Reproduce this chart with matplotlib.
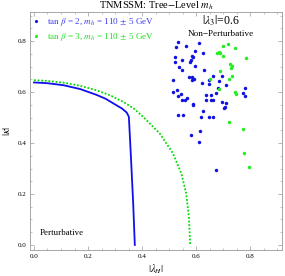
import matplotlib
matplotlib.use("Agg")
import matplotlib.pyplot as plt
from matplotlib.ticker import MultipleLocator

plt.rcParams['font.family'] = ['Liberation Serif', 'DejaVu Serif']
plt.rcParams['mathtext.fontset'] = 'stix'

# Boundary curves
blue_curve_x = [0, 0.05, 0.11, 0.171, 0.232, 0.265, 0.293, 0.325, 0.343, 0.351, 0.358, 0.367, 0.373]
blue_curve_y = [0.638, 0.635, 0.627, 0.612, 0.589, 0.574, 0.556, 0.536, 0.520, 0.503, 0.360, 0.163, 0.0]
green_curve_x = [0, 0.05, 0.11, 0.171, 0.232, 0.281, 0.330, 0.370, 0.404, 0.465, 0.514, 0.545, 0.563, 0.573, 0.578]
green_curve_y = [0.647, 0.644, 0.637, 0.625, 0.607, 0.588, 0.562, 0.535, 0.503, 0.438, 0.360, 0.281, 0.203, 0.111, 0.0]

# Scan points
blue_x = [0.532, 0.526, 0.564, 0.612, 0.594, 0.625, 0.520, 0.548, 0.584, 0.590, 0.581, 0.578,
          0.520, 0.594, 0.537, 0.547, 0.630, 0.572, 0.584, 0.593, 0.586, 0.516, 0.662, 0.649,
          0.696, 0.685, 0.621, 0.646, 0.711, 0.530, 0.514, 0.781, 0.679, 0.674, 0.773, 0.781,
          0.543, 0.531, 0.637, 0.656, 0.635, 0.654, 0.662, 0.565, 0.559, 0.546, 0.590, 0.588,
          0.694, 0.709, 0.705, 0.703, 0.627, 0.533, 0.553, 0.619, 0.647, 0.664, 0.615, 0.580,
          0.612, 0.675]
blue_y = [0.795, 0.778, 0.783, 0.793, 0.761, 0.752, 0.738, 0.728, 0.741, 0.736, 0.728, 0.720,
          0.719, 0.703, 0.698, 0.686, 0.687, 0.659, 0.659, 0.651, 0.647, 0.646, 0.662, 0.647,
          0.663, 0.645, 0.637, 0.633, 0.627, 0.608, 0.601, 0.616, 0.618, 0.595, 0.595, 0.583,
          0.593, 0.586, 0.588, 0.588, 0.571, 0.571, 0.571, 0.576, 0.569, 0.569, 0.553, 0.548,
          0.561, 0.556, 0.540, 0.536, 0.527, 0.510, 0.511, 0.501, 0.503, 0.503, 0.448, 0.430,
          0.403, 0.293]
green_x = [0.700, 0.716, 0.742, 0.677, 0.684, 0.689, 0.699, 0.784, 0.726, 0.732, 0.728, 0.689,
           0.732, 0.723, 0.652, 0.686, 0.744, 0.747, 0.720, 0.774, 0.777, 0.795]
green_y = [0.782, 0.790, 0.774, 0.754, 0.759, 0.754, 0.741, 0.735, 0.710, 0.703, 0.695, 0.684,
           0.663, 0.652, 0.650, 0.612, 0.601, 0.592, 0.482, 0.455, 0.361, 0.307]

x_ticks = [0.0, 0.2, 0.4, 0.6, 0.8]
y_ticks = [0.0, 0.2, 0.4, 0.6, 0.8]

fig = plt.figure(figsize=(2.85, 2.76), dpi=100)
ax = fig.add_axes([0.105, 0.094, 0.884, 0.862])

ax.plot(blue_curve_x, blue_curve_y, color='#1010ee', lw=1.3)
ax.plot(green_curve_x, green_curve_y, color='#00dd00', lw=1.3, ls=(0, (1, 1)))
ax.plot(blue_x, blue_y, 'o', color='#1212e0', ms=2.5, mec='none',
        label=r'$\tan\,\beta$ = 2, $m_h$ = 110 $\pm$ 5 GeV')
ax.plot(green_x, green_y, 'o', color='#22ee22', ms=2.5, mec='none',
        label=r'$\tan\,\beta$ = 3, $m_h$ = 110 $\pm$ 5 GeV')

leg = ax.legend(loc='upper left', frameon=False, fontsize=6.6, handlelength=0.5,
                handletextpad=0.9, borderaxespad=0.05, labelspacing=0.3, markerscale=0.9)
leg.get_texts()[0].set_color('#3b3bf0')
leg.get_texts()[1].set_color('#22dd22')

ax.text(0.690, 0.882, r'$|\lambda_3|$=0.6', ha='center', va='center', fontsize=8.5)
ax.text(0.690, 0.827, 'Non\u2212Perturbative', ha='center', va='center', fontsize=6.6)
ax.text(0.104, 0.047, 'Perturbative', ha='center', va='center', fontsize=6.4)

ax.set_xlim(-0.015, 0.917)
ax.set_ylim(-0.02, 0.914)
ax.set_xticks(x_ticks)
ax.set_yticks(y_ticks)
ax.set_xticklabels([f'{v:.1f}' for v in x_ticks])
ax.set_yticklabels([f'{v:.1f}' for v in y_ticks])
ax.xaxis.set_minor_locator(MultipleLocator(0.05))
ax.yaxis.set_minor_locator(MultipleLocator(0.05))
ax.tick_params(which='both', direction='in', top=True, right=True, labelsize=5,
               color='#999999', pad=2.5)
ax.tick_params(which='major', length=3, width=0.5)
ax.tick_params(which='minor', length=1.5, width=0.4)
for s in ax.spines.values():
    s.set_color('#999999')
    s.set_linewidth(0.6)

ax.set_xlabel(r'$|\lambda_H|$', fontsize=7.5, labelpad=3)
ax.set_ylabel(r'$|\kappa|$', fontsize=7.5, labelpad=4)
ax.set_title(r'TNMSSM: Tree$-$Level $m_h$', fontsize=7.5, pad=2)

fig.savefig('out.png', dpi=100)
